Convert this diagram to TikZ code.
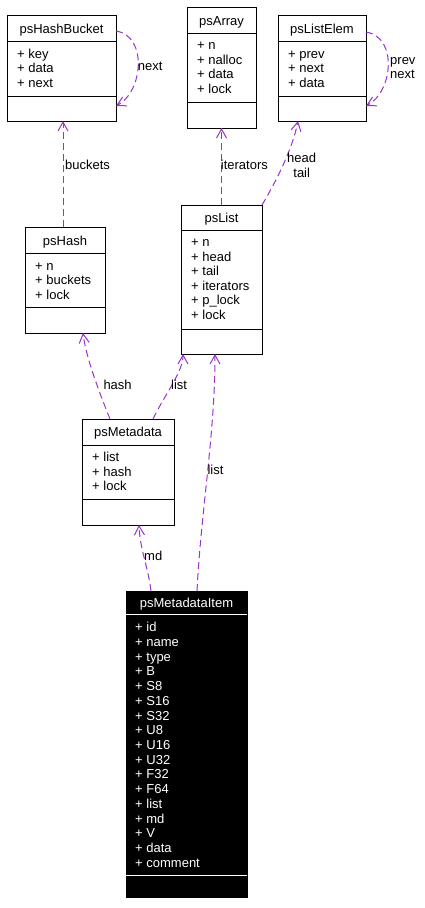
\documentclass[tikz,border=0pt]{standalone}
\usepackage{fontspec}
\setmainfont{Liberation Sans}
\usetikzlibrary{arrows.meta}
\definecolor{edgec}{HTML}{9A32CD}
\begin{document}
\begin{tikzpicture}[x=1pt,y=-1pt,
  box/.style={draw=black, line width=1pt, inner sep=0, outer sep=0, anchor=north west},
  dbox/.style={box, fill=black},
  sep/.style={line width=1pt},
  wsep/.style={line width=1pt, draw=white},
  txt/.style={inner sep=0, font=\fontsize{13}{15}\selectfont},
  ttl/.style={txt, anchor=base},
  attr/.style={txt, anchor=base west},
  lbl/.style={txt, anchor=base west},
  clbl/.style={txt, anchor=base},
  rel/.style={draw=edgec, line width=1pt, dash pattern=on 7pt off 4pt, -{Straight Barb[length=9pt,width=10pt]}}]
\useasboundingbox (0,0) rectangle (424,908);

% psHashBucket
\node[box, minimum width=109pt, minimum height=106pt] (hb) at (7,15) {};
\draw[sep] (7,41) -- (116,41);
\draw[sep] (7,96) -- (116,96);
\node[ttl] (hbt) at (61.5,33) {psHashBucket};
\node[attr] (hb1) at (17,58.3) {+ key};
\node[attr] (hb2) at (17,72.8) {+ data};
\node[attr] (hb3) at (17,87.3) {+ next};

% psArray
\node[box, minimum width=69pt, minimum height=121pt] (arr) at (187,7) {};
\draw[sep] (187,33) -- (256,33);
\draw[sep] (187,102) -- (256,102);
\node[ttl] (arrt) at (221.5,25) {psArray};
\node[attr] (arr1) at (197,49.5) {+ n};
\node[attr] (arr2) at (197,64) {+ nalloc};
\node[attr] (arr3) at (197,78.5) {+ data};
\node[attr] (arr4) at (197,93) {+ lock};

% psListElem
\node[box, minimum width=88pt, minimum height=106pt] (le) at (278,15) {};
\draw[sep] (278,41) -- (366,41);
\draw[sep] (278,96) -- (366,96);
\node[ttl] (let) at (322,33) {psListElem};
\node[attr] (le1) at (288,58.3) {+ prev};
\node[attr] (le2) at (288,72.8) {+ next};
\node[attr] (le3) at (288,87.3) {+ data};

% psHash
\node[box, minimum width=80pt, minimum height=106pt] (h) at (25,227) {};
\draw[sep] (25,253) -- (105,253);
\draw[sep] (25,307) -- (105,307);
\node[ttl] (ht) at (65,245) {psHash};
\node[attr] (h1) at (35,270) {+ n};
\node[attr] (h2) at (35,284.5) {+ buckets};
\node[attr] (h3) at (35,299) {+ lock};

% psList
\node[box, minimum width=81pt, minimum height=149pt] (l) at (181,205) {};
\draw[sep] (181,230.3) -- (262,230.3);
\draw[sep] (181,329.3) -- (262,329.3);
\node[ttl] (lt) at (221.5,222.3) {psList};
\node[attr] (l1) at (191,246.7) {+ n};
\node[attr] (l2) at (191,261.2) {+ head};
\node[attr] (l3) at (191,275.7) {+ tail};
\node[attr] (l4) at (191,290.2) {+ iterators};
\node[attr] (l5) at (191,304.7) {+ p\_lock};
\node[attr] (l6) at (191,319.2) {+ lock};

% psMetadata
\node[box, minimum width=92pt, minimum height=106pt] (md) at (82,419) {};
\draw[sep] (82,445) -- (174,445);
\draw[sep] (82,499) -- (174,499);
\node[ttl] (mdt) at (128,436.7) {psMetadata};
\node[attr] (md1) at (92,461.7) {+ list};
\node[attr] (md2) at (92,476.2) {+ hash};
\node[attr] (md3) at (92,490.7) {+ lock};

% psMetadataItem (highlighted)
\node[dbox, minimum width=121pt, minimum height=306pt] (mi) at (126,591) {};
\draw[wsep] (126,614) -- (247,614);
\draw[wsep] (126,875) -- (247,875);
\node[ttl, text=white] (mit) at (186.5,607) {psMetadataItem};
\foreach \t [count=\i from 0] in {id,name,type,B,S8,S16,S32,U8,U16,U32,F32,F64,list,md,V,data,comment}
  \node[attr, text=white] (mi\i) at (135,631.7+\i*14.72) {+ \t};

% relations
\draw[rel] ([yshift=-16pt]hb.north east) .. controls +(32,5) and +(27,-14) .. ([yshift=15pt]hb.south east);
\node[lbl] (lnext) at (137.7,70.7) {next};

\draw[rel] ([yshift=-17pt]le.north east) .. controls +(32,5) and +(27,-14) .. ([yshift=15pt]le.south east);
\node[lbl] (lprev) at (390,64.3) {prev};
\node[lbl] (lnext2) at (390,78.3) {next};

\draw[rel] ([xshift=-2pt]h.north) -- ([xshift=1.5pt]hb.south);
\node[lbl] (lbuckets) at (65,169.3) {buckets};

\draw[rel] (l.north) -- (arr.south);
\node[lbl] (literators) at (220.7,169.3) {iterators};

\draw[rel] (l.north east) .. controls +(12,-20) and +(-6,30) .. ([xshift=-24pt]le.south);
\node[clbl] (lhead) at (301.7,162.7) {head};
\node[clbl] (ltail) at (301.7,177.3) {tail};

\draw[rel] ([xshift=-18pt]md.north) .. controls +(-10,-25) and +(3,25) .. ([xshift=18pt]h.south);
\node[lbl] (lhash) at (103.3,389.3) {hash};

\draw[rel] ([xshift=25pt]md.north) .. controls +(12,-25) and +(0,18) .. ([xshift=2pt]l.south west);
\node[lbl] (llist1) at (171,389.3) {list};

\draw[rel] ([xshift=-35.5pt]mi.north) .. controls +(-3,-25) and +(1,25) .. ([xshift=11pt]md.south);
\node[lbl] (lmd) at (144,560.7) {md};

\draw[rel] ([xshift=10.5pt]mi.north) .. controls +(4,-80) and +(0,80) .. ([xshift=-6.5pt]l.south);
\node[lbl] (llist2) at (207.3,474.3) {list};
\end{tikzpicture}
\end{document}
